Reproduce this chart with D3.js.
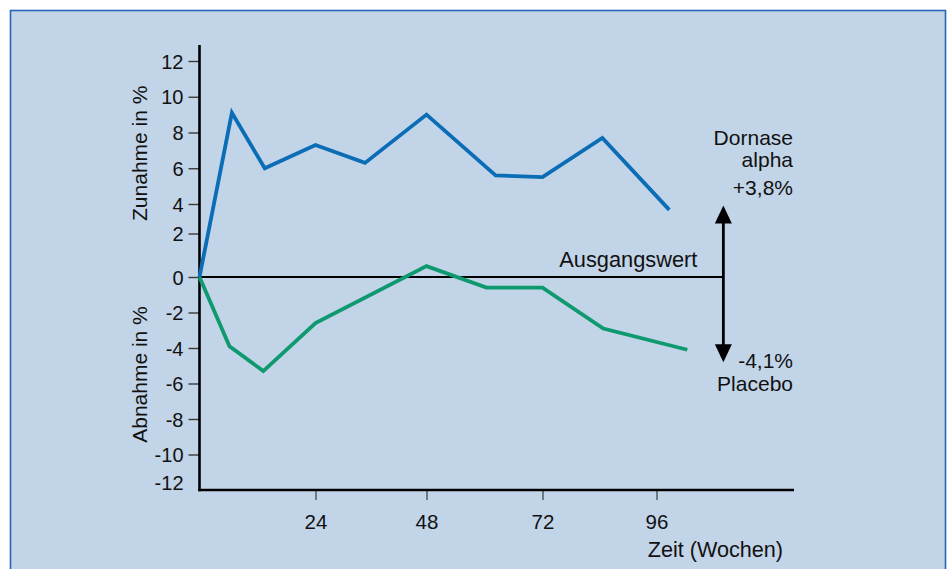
<!DOCTYPE html>
<html>
<head>
<meta charset="utf-8">
<script src="https://cdn.jsdelivr.net/npm/d3@7"></script>
<style>
  html, body { margin: 0; padding: 0; background: #ffffff; }
  svg { display: block; }
  text { font-family: "Liberation Sans", Arial, Helvetica, sans-serif; fill: #111; }
</style>
</head>
<body>
<svg id="chart" width="952" height="569"></svg>
<script>
// ---- data ----
const xTicks = [24, 48, 72, 96];
const yTicks = [12, 10, 8, 6, 4, 2, 0, -2, -4, -6, -8, -10, -12];

const dornaseWeeks  = [0, 6.7, 13.5, 24, 34.7, 48, 62.3, 72, 84.6, 98.7];
const dornaseValues = [0, 9.1, 6.0, 7.3, 6.3, 9.0, 5.6, 5.5, 7.7, 3.6];

const placeboWeeks  = [0, 6.2, 13.2, 24, 48, 60.4, 72, 84.8, 102.5];
const placeboValues = [0, -3.9, -5.3, -2.6, 0.5, -0.6, -0.6, -2.9, -4.1];

const arrowWeek = 110.1;
const arrowEnds = [3.9, -4.8];

const labelsRight = ["Dornase", "alpha", "+3,8%"];
const labelsRightLow = ["-4,1%", "Placebo"];

// ---- drawing ----
const svg = d3.select("#chart");
const LABEL = 21;

svg.append("rect")
  .attr("x", 10.5).attr("y", 10.5)
  .attr("width", 935).attr("height", 580)
  .attr("fill", "#c2d4e8")
  .attr("stroke", "#2a64b6")
  .attr("stroke-width", 1.6);

// hand-drawn axes: piecewise scales
const x = d3.scaleLinear()
  .domain([0, 24, 48, 72, 96, 125])
  .range([199.5, 315.5, 426.5, 542.5, 656.5, 794]);

const y = d3.scaleLinear()
  .domain([-12, 0, 2, 4, 12])
  .range([490, 277, 233.5, 204, 61]);

// y axis ticks
const yAxis = d3.axisLeft(y)
  .tickValues(yTicks)
  .tickSize(11)
  .tickPadding(5)
  .tickFormat(d => d3.format("d")(d).replace("−", "-"));

const gy = svg.append("g")
  .attr("transform", `translate(${x(0)},0)`)
  .call(yAxis);
gy.select(".domain").remove();
gy.selectAll(".tick line").attr("stroke", "#3a3a3a").attr("stroke-width", 1.4);
gy.selectAll(".tick text")
  .attr("font-size", 20)
  .attr("fill", "#111")
  .attr("dy", d => d === -12 ? "-0.02em" : "0.35em");
gy.selectAll(".tick").filter(d => d === -12).select("line").remove();

// x axis ticks
const xAxis = d3.axisBottom(x)
  .tickValues(xTicks)
  .tickSize(10)
  .tickPadding(14)
  .tickFormat(d3.format("d"));

const gx = svg.append("g")
  .attr("transform", `translate(0,${y(-12)})`)
  .call(xAxis);
gx.select(".domain").remove();
gx.selectAll(".tick line").attr("stroke", "#3a3a3a").attr("stroke-width", 1.2);
gx.selectAll(".tick text").attr("font-size", 20.5).attr("fill", "#111");

// axis lines
svg.append("line")
  .attr("x1", x(0)).attr("x2", x(0))
  .attr("y1", y(12.9)).attr("y2", y(-12) + 1.2)
  .attr("stroke", "#000").attr("stroke-width", 2.6);
svg.append("line")
  .attr("x1", x(0) - 1.2).attr("x2", x(125))
  .attr("y1", y(-12)).attr("y2", y(-12))
  .attr("stroke", "#000").attr("stroke-width", 2.6);

// baseline (Ausgangswert)
svg.append("line")
  .attr("x1", x(0)).attr("x2", x(arrowWeek))
  .attr("y1", y(0)).attr("y2", y(0))
  .attr("stroke", "#000").attr("stroke-width", 2);

// data lines
const line = d3.line().x(d => x(d[0])).y(d => y(d[1]));

svg.append("path")
  .datum(placeboWeeks.map((w, i) => [w, placeboValues[i]]))
  .attr("d", line)
  .attr("fill", "none")
  .attr("stroke", "#0e9a6e")
  .attr("stroke-width", 3.8)
  .attr("stroke-linejoin", "miter");

svg.append("path")
  .datum(dornaseWeeks.map((w, i) => [w, dornaseValues[i]]))
  .attr("d", line)
  .attr("fill", "none")
  .attr("stroke", "#0a6db5")
  .attr("stroke-width", 3.8)
  .attr("stroke-linejoin", "miter");

// double arrow
const ax = x(arrowWeek);
const yTop = y(arrowEnds[0]);
const yBot = y(arrowEnds[1]);
const headH = 18, headW = 8.5;
svg.append("line")
  .attr("x1", ax).attr("x2", ax)
  .attr("y1", yTop + headH - 2).attr("y2", yBot - headH + 2)
  .attr("stroke", "#000").attr("stroke-width", 2.8);
svg.append("path")
  .attr("d", `M${ax},${yTop} L${ax - headW},${yTop + headH} L${ax + headW},${yTop + headH} Z`)
  .attr("fill", "#000");
svg.append("path")
  .attr("d", `M${ax},${yBot} L${ax - headW},${yBot - headH} L${ax + headW},${yBot - headH} Z`)
  .attr("fill", "#000");

// annotations
svg.append("text")
  .attr("x", ax - 26).attr("y", y(0) - 10)
  .attr("text-anchor", "end")
  .attr("font-size", LABEL + 0.8)
  .text("Ausgangswert");

const rightX = x(125) - 1;
const rightYs = [145, 167, 195];
labelsRight.forEach((t, i) => {
  svg.append("text")
    .attr("x", rightX).attr("y", rightYs[i])
    .attr("text-anchor", "end")
    .attr("font-size", LABEL)
    .text(t);
});
const rightLowYs = [368, 391];
labelsRightLow.forEach((t, i) => {
  svg.append("text")
    .attr("x", rightX).attr("y", rightLowYs[i])
    .attr("text-anchor", "end")
    .attr("font-size", LABEL)
    .text(t);
});

// axis titles
svg.append("text")
  .attr("transform", `translate(147,${(y(12) + y(2)) / 2 + 6}) rotate(-90)`)
  .attr("text-anchor", "middle")
  .attr("font-size", LABEL)
  .text("Zunahme in %");
svg.append("text")
  .attr("transform", `translate(147,${(y(-2) + y(-10)) / 2 - 9}) rotate(-90)`)
  .attr("text-anchor", "middle")
  .attr("font-size", LABEL)
  .text("Abnahme in %");

svg.append("text")
  .attr("x", 783).attr("y", 557)
  .attr("text-anchor", "end")
  .attr("font-size", LABEL + 0.6)
  .text("Zeit (Wochen)");
</script>
</body>
</html>
